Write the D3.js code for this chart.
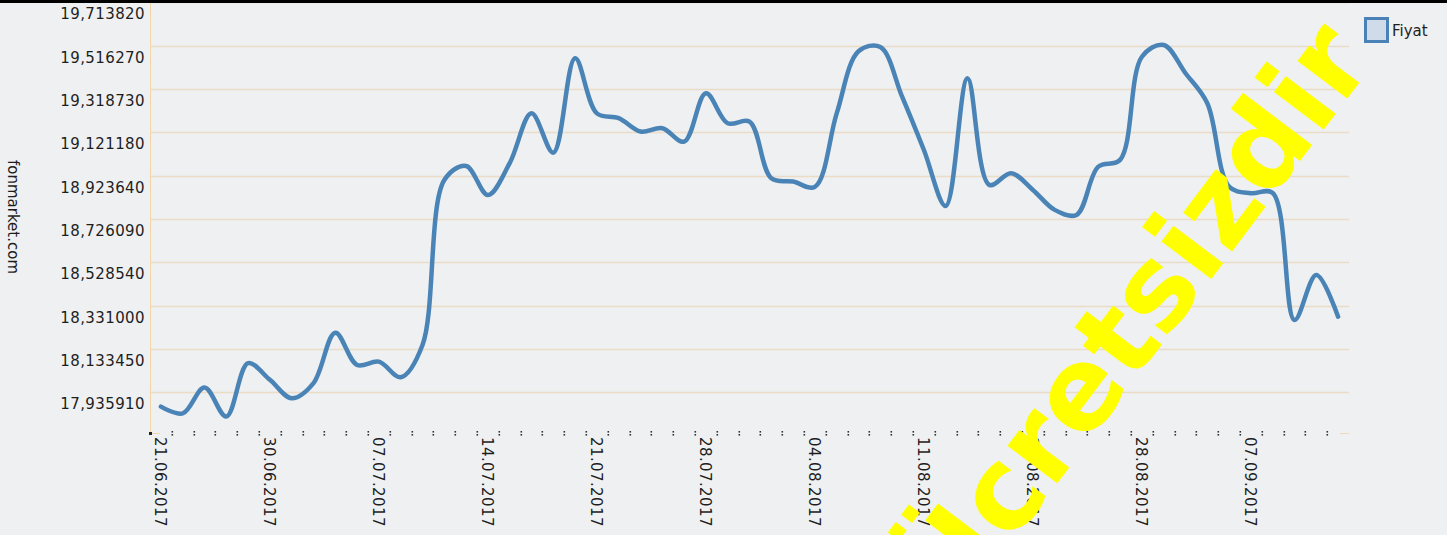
<!DOCTYPE html>
<html>
<head>
<meta charset="utf-8">
<script src="https://cdn.jsdelivr.net/npm/d3@7"></script>
<style>
body{margin:0;background:#eef0f2;overflow:hidden}
svg{display:block}
text{font-family:"DejaVu Sans",sans-serif}
</style>
</head>
<body>
<div id="chart"></div>
<script>
// trading days shown on the chart (a label every 5th point)
var dates = ["21.06.2017","22.06.2017","23.06.2017","28.06.2017","29.06.2017","30.06.2017",
    "03.07.2017","04.07.2017","05.07.2017","06.07.2017","07.07.2017","10.07.2017","11.07.2017",
    "12.07.2017","13.07.2017","14.07.2017","17.07.2017","18.07.2017","19.07.2017","20.07.2017",
    "21.07.2017","24.07.2017","25.07.2017","26.07.2017","27.07.2017","28.07.2017","31.07.2017",
    "01.08.2017","02.08.2017","03.08.2017","04.08.2017","07.08.2017","08.08.2017","09.08.2017",
    "10.08.2017","11.08.2017","14.08.2017","15.08.2017","16.08.2017","17.08.2017","18.08.2017",
    "21.08.2017","22.08.2017","23.08.2017","24.08.2017","28.08.2017","29.08.2017","31.08.2017",
    "05.09.2017","06.09.2017","07.09.2017","08.09.2017","11.09.2017","12.09.2017","13.09.2017"];

var prices = [17.870, 17.839, 17.957, 17.825, 18.068, 17.992, 17.908, 17.977, 18.207, 18.060,
    18.075, 18.004, 18.151, 18.903, 18.967, 18.835, 18.980, 19.207, 19.028, 19.458,
    19.207, 19.185, 19.124, 19.139, 19.078, 19.299, 19.162, 19.169, 18.911, 18.896,
    18.872, 19.207, 19.490, 19.510, 19.283, 19.040, 18.785, 19.367, 18.881, 18.934,
    18.858, 18.767, 18.744, 18.964, 18.995, 19.465, 19.519, 19.390, 19.253, 18.873,
    18.843, 18.844, 18.265, 18.470, 18.280];

var yTicks = [17.93591, 18.13345, 18.33100, 18.52854, 18.72609, 18.92364,
    19.12118, 19.31873, 19.51627, 19.71382];
var yMin = 17.73836;

var seriesName = "Fiyat";
var axisTitle = "fonmarket.com";
var watermarkText = "Ücretsizdir";
var labelEvery = 5;

var Chart = {
    width: 1447,
    height: 535,
    left: 150,
    right: 1349,
    top: 2.2,
    bottom: 435.5,
    axisY: 433,

    init: function(){
        this.svg = d3.select("#chart").append("svg")
            .attr("width", this.width)
            .attr("height", this.height);

        this.svg.append("rect")
            .attr("width", this.width)
            .attr("height", this.height)
            .attr("fill", "#eef0f2");

        this.x = d3.scaleBand()
            .domain(d3.range(dates.length))
            .range([this.left, this.right]);
        this.y = d3.scaleLinear()
            .domain([yMin, yTicks[yTicks.length - 1]])
            .range([this.bottom, this.top]);

        this.drawGrid();
        this.drawXAxis();
        this.drawLine();
        this.drawLegend();
        this.drawWatermark();

        // black strip on top of the picture
        this.svg.append("rect")
            .attr("width", this.width)
            .attr("height", 3)
            .attr("fill", "#000");
    },

    cx: function(i){
        return this.x(i) + this.x.bandwidth() / 2;
    },

    drawGrid: function(){
        var self = this;
        var fmt = d3.format(".6f");

        this.svg.append("g")
            .selectAll("line")
            .data(yTicks)
            .join("line")
            .attr("x1", this.left)
            .attr("x2", this.right)
            .attr("y1", function(d){ return Math.round(self.y(d)) + 0.5; })
            .attr("y2", function(d){ return Math.round(self.y(d)) + 0.5; })
            .attr("stroke", "#ecdcc6")
            .attr("stroke-width", 1.5);

        this.svg.append("g")
            .selectAll("text")
            .data(yTicks)
            .join("text")
            .attr("x", 145)
            .attr("y", function(d){ return self.y(d) + 17; })
            .attr("text-anchor", "end")
            .attr("font-size", 15)
            .attr("letter-spacing", 0.4)
            .attr("fill", "#1e1e1e")
            .text(function(d){ return fmt(d).replace(".", ","); });

        // left axis line
        this.svg.append("line")
            .attr("x1", this.left + 0.5)
            .attr("x2", this.left + 0.5)
            .attr("y1", this.top)
            .attr("y2", this.axisY)
            .attr("stroke", "#f3d5a9")
            .attr("stroke-width", 1);

        this.svg.append("text")
            .attr("transform", "translate(8," + 217 + ") rotate(90)")
            .attr("text-anchor", "middle")
            .attr("font-size", 15)
            .attr("fill", "#1e1e1e")
            .text(axisTitle);
    },

    drawXAxis: function(){
        var self = this;
        var g = this.svg.append("g");
        var ticks = d3.range(1, dates.length);

        g.append("line")
            .attr("x1", this.left)
            .attr("x2", this.left + 10)
            .attr("y1", this.axisY + 0.5)
            .attr("y2", this.axisY + 0.5)
            .attr("stroke", "#f3d5a9");
        g.append("line")
            .attr("x1", this.right - 9)
            .attr("x2", this.right)
            .attr("y1", this.axisY + 0.5)
            .attr("y2", this.axisY + 0.5)
            .attr("stroke", "#f0d8b8");

        g.append("rect")
            .attr("x", this.left - 1)
            .attr("y", this.axisY - 1)
            .attr("width", 3)
            .attr("height", 3)
            .attr("fill", "#222");

        // each tick is a small ':' mark
        [-2, 1].forEach(function(dy){
            g.selectAll(null)
                .data(ticks)
                .join("rect")
                .attr("x", function(k){ return Math.round(self.left + k * self.x.step()) - 0.5; })
                .attr("y", self.axisY + dy)
                .attr("width", 1.6)
                .attr("height", 1.6)
                .attr("fill", "#333");
        });

        g.selectAll("text")
            .data(dates.filter(function(d, i){ return i % labelEvery == 0; }))
            .join("text")
            .attr("transform", function(d, j){
                return "translate(" + (self.cx(j * labelEvery) - 5.5) + "," + 437 + ") rotate(90)";
            })
            .attr("font-size", 15)
            .attr("letter-spacing", 0.4)
            .attr("fill", "#1e1e1e")
            .text(function(d){ return d; });
    },

    drawLine: function(){
        var self = this;
        var line = d3.line()
            .x(function(d, i){ return self.cx(i); })
            .y(function(d){ return self.y(d); })
            .curve(d3.curveCatmullRom.alpha(0.5));

        this.svg.append("path")
            .datum(prices)
            .attr("d", line)
            .attr("fill", "none")
            .attr("stroke", "#4a84b7")
            .attr("stroke-width", 4.5)
            .attr("stroke-linejoin", "round")
            .attr("stroke-linecap", "round");
    },

    drawLegend: function(){
        this.svg.append("rect")
            .attr("x", 1365.5)
            .attr("y", 18.5)
            .attr("width", 22)
            .attr("height", 23)
            .attr("fill", "#cfdbe8")
            .attr("stroke", "#4a82b8")
            .attr("stroke-width", 3);
        this.svg.append("text")
            .attr("x", 1392)
            .attr("y", 36)
            .attr("font-size", 15)
            .attr("fill", "#1e1e1e")
            .text(seriesName);
    },

    drawWatermark: function(){
        this.svg.append("text")
            .attr("transform", "translate(955,619) rotate(-53)")
            .style("font-family", "'DejaVu Sans', sans-serif")
            .style("font-weight", "bold")
            .style("font-size", "114px")
            .attr("fill", "#ffff00")
            .text(watermarkText);
    }
};

Chart.init();
</script>
</body>
</html>
